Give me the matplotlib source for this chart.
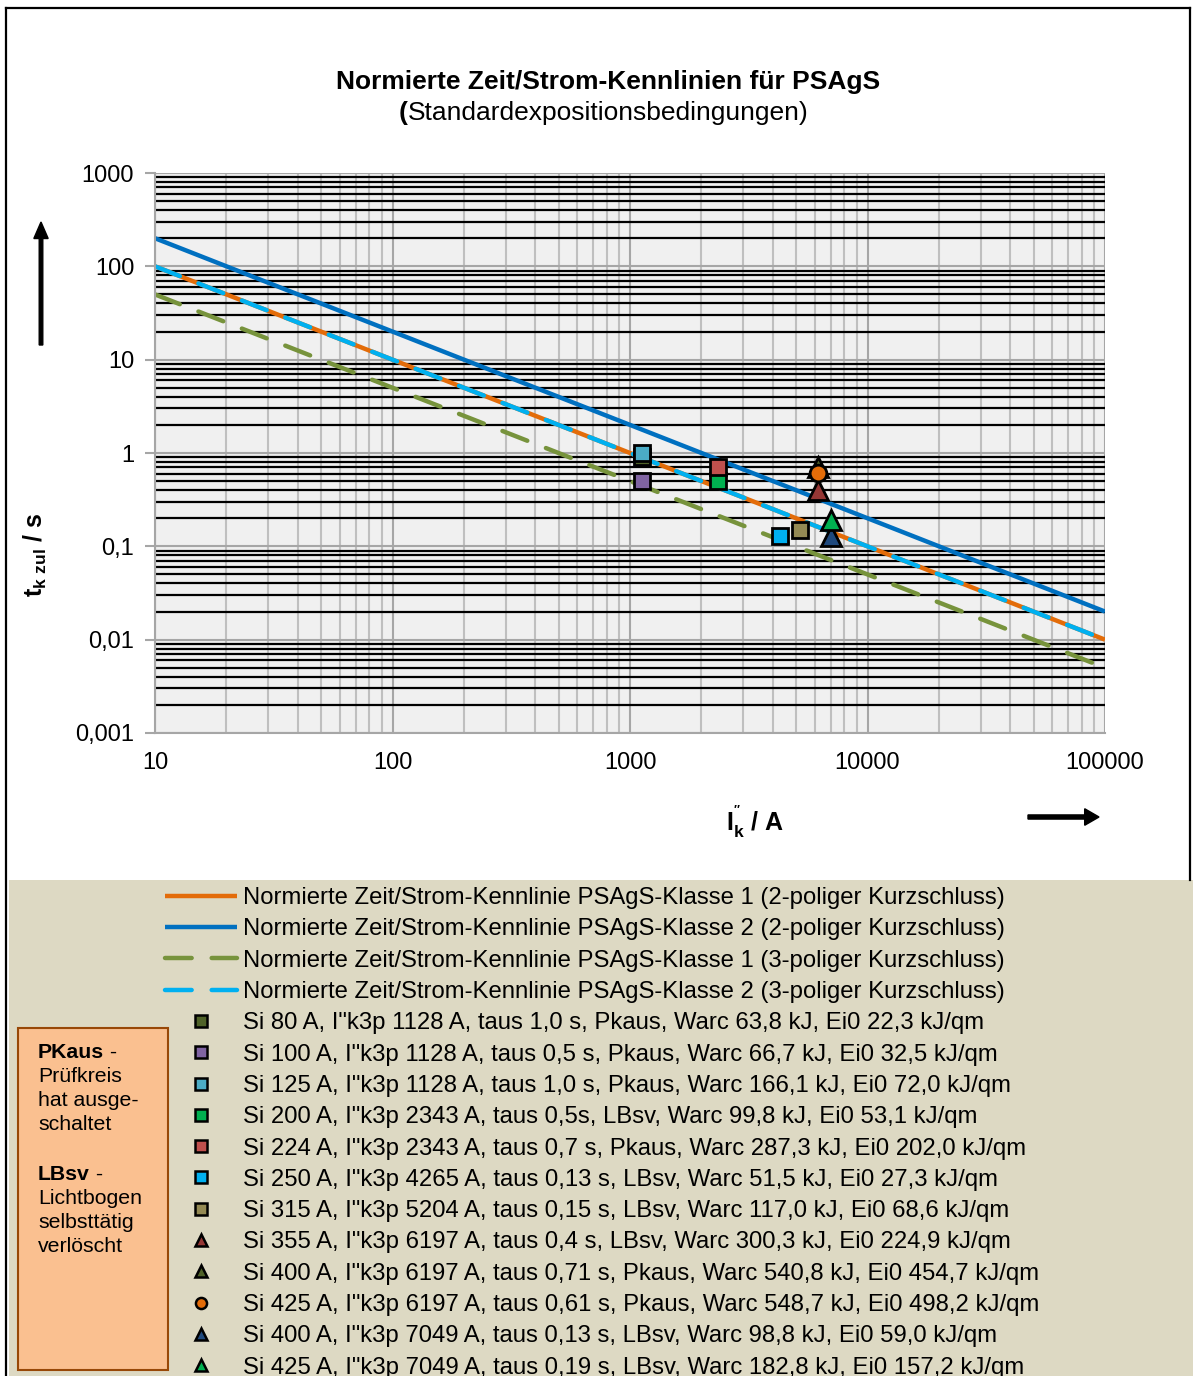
import matplotlib
matplotlib.use("Agg")
import matplotlib.pyplot as plt
from matplotlib.lines import Line2D
from matplotlib.patches import Rectangle, FancyArrow
from matplotlib.ticker import FixedLocator, FuncFormatter, LogLocator, NullFormatter

plt.rcParams['font.family'] = ['Liberation Sans', 'DejaVu Sans']
plt.rcParams['mathtext.fontset'] = 'custom'
plt.rcParams['mathtext.rm'] = 'Liberation Sans'
plt.rcParams['mathtext.bf'] = 'Liberation Sans:bold'

# Kennlinien (Endpunkte)
ik_line = [10, 100000]
t_kl1_2p = [100, 0.01]
t_kl2_2p = [200, 0.02]
t_kl1_3p = [50, 0.005]
t_kl2_3p = [100, 0.01]

line_labels = [
    "Normierte Zeit/Strom-Kennlinie PSAgS-Klasse 1 (2-poliger Kurzschluss)",
    "Normierte Zeit/Strom-Kennlinie PSAgS-Klasse 2 (2-poliger Kurzschluss)",
    "Normierte Zeit/Strom-Kennlinie PSAgS-Klasse 1 (3-poliger Kurzschluss)",
    "Normierte Zeit/Strom-Kennlinie PSAgS-Klasse 2 (3-poliger Kurzschluss)",
]

# Messpunkte
pt_ik = [1128, 1128, 1128, 2343, 2343, 4265, 5204, 6197, 6197, 6197, 7049, 7049]
pt_t = [0.9, 0.5, 1.0, 0.5, 0.7, 0.13, 0.15, 0.4, 0.71, 0.61, 0.13, 0.19]
pt_marker = ['s', 's', 's', 's', 's', 's', 's', '^', '^', 'o', '^', '^']
pt_color = ['#4F6228', '#8064A2', '#4BACC6', '#00B050', '#C0504D', '#00B0F0',
            '#948A54', '#953735', '#4F6228', '#E36C09', '#1F497D', '#00B050']
pt_labels = [
    "Si 80 A, I\"k3p 1128 A, taus 1,0 s, Pkaus, Warc 63,8 kJ, Ei0 22,3 kJ/qm",
    "Si 100 A, I\"k3p 1128 A, taus 0,5 s, Pkaus, Warc 66,7 kJ, Ei0 32,5 kJ/qm",
    "Si 125 A, I\"k3p 1128 A, taus 1,0 s, Pkaus, Warc 166,1 kJ, Ei0 72,0 kJ/qm",
    "Si 200 A, I\"k3p 2343 A, taus 0,5s, LBsv, Warc 99,8 kJ, Ei0 53,1 kJ/qm",
    "Si 224 A, I\"k3p 2343 A, taus 0,7 s, Pkaus, Warc 287,3 kJ, Ei0 202,0 kJ/qm",
    "Si 250 A, I\"k3p 4265 A, taus 0,13 s, LBsv, Warc 51,5 kJ, Ei0 27,3 kJ/qm",
    "Si 315 A, I\"k3p 5204 A, taus 0,15 s, LBsv, Warc 117,0 kJ, Ei0 68,6 kJ/qm",
    "Si 355 A, I\"k3p 6197 A, taus 0,4 s, LBsv, Warc 300,3 kJ, Ei0 224,9 kJ/qm",
    "Si 400 A, I\"k3p 6197 A, taus 0,71 s, Pkaus, Warc 540,8 kJ, Ei0 454,7 kJ/qm",
    "Si 425 A, I\"k3p 6197 A, taus 0,61 s, Pkaus, Warc 548,7 kJ, Ei0 498,2 kJ/qm",
    "Si 400 A, I\"k3p 7049 A, taus 0,13 s, LBsv, Warc 98,8 kJ, Ei0 59,0 kJ/qm",
    "Si 425 A, I\"k3p 7049 A, taus 0,19 s, LBsv, Warc 182,8 kJ, Ei0 157,2 kJ/qm",
]

W, H = 1193, 1376
fig = plt.figure(figsize=(W / 100, H / 100), dpi=100)

def fx(px):
    return px / W

def fy(py):
    return 1 - py / H

# Hintergrund Legendenbereich + Rahmen
fig.patches.append(Rectangle((fx(9), 0), 1, fy(880), transform=fig.transFigure,
                             facecolor='#DDD9C3', edgecolor='none', zorder=0))
fig.add_artist(Line2D([fx(6), fx(6)], [0, fy(8)], color='black', lw=1.6))
fig.add_artist(Line2D([fx(6), fx(1190)], [fy(8), fy(8)], color='black', lw=1.6))
fig.add_artist(Line2D([fx(1190), fx(1190)], [fy(8), fy(880)], color='black', lw=1.6))

ax = fig.add_axes([fx(155), fy(733), fx(1105) - fx(155), fy(173) - fy(733)])
ax.set_facecolor('#F0F0F0')
ax.set_xscale('log')
ax.set_yscale('log')
ax.set_xlim(10, 100000)
ax.set_ylim(0.001, 1000)

ax.xaxis.set_major_locator(FixedLocator([10, 100, 1000, 10000, 100000]))
ax.xaxis.set_minor_locator(LogLocator(base=10, subs=range(2, 10), numticks=20))
ax.yaxis.set_major_locator(FixedLocator([0.001, 0.01, 0.1, 1, 10, 100, 1000]))
ax.yaxis.set_minor_locator(LogLocator(base=10, subs=range(2, 10), numticks=20))
ax.xaxis.set_minor_formatter(NullFormatter())
ax.yaxis.set_minor_formatter(NullFormatter())
ax.xaxis.set_major_formatter(FuncFormatter(lambda v, p: f"{v:g}" if v >= 1 else ""))
ax.yaxis.set_major_formatter(FuncFormatter(
    lambda v, p: (f"{v:.0f}" if v >= 1 else f"{v:.3f}".rstrip('0').replace('.', ','))))

ax.grid(which='major', axis='both', color='#A6A6A6', lw=1.5)
ax.grid(which='minor', axis='x', color='#BFBFBF', lw=1.5)
ax.grid(which='minor', axis='y', color='black', lw=1.6)
ax.set_axisbelow(True)

for s in ['top', 'right']:
    ax.spines[s].set_visible(False)
for s in ['left', 'bottom']:
    ax.spines[s].set_color('#A6A6A6')
    ax.spines[s].set_linewidth(1.5)
ax.tick_params(which='major', axis='y', length=7, width=1.5, color='#A6A6A6',
               labelsize=17, pad=8)
ax.tick_params(which='major', axis='x', length=0, labelsize=17, pad=14)
ax.tick_params(which='minor', length=0)

h1, = ax.plot(ik_line, t_kl1_2p, color='#E36C09', lw=3.2, solid_capstyle='butt')
h2, = ax.plot(ik_line, t_kl2_2p, color='#0070C0', lw=3.2, solid_capstyle='butt')
h3, = ax.plot(ik_line, t_kl1_3p, color='#77933C', lw=3.2, dashes=(6, 4.5),
              dash_capstyle='round')
h4, = ax.plot(ik_line, t_kl2_3p, color='#00B0F0', lw=3.2, dashes=(6, 4.5),
              dash_capstyle='round')

pt_handles = []
for x, y, m, c in zip(pt_ik, pt_t, pt_marker, pt_color):
    ms = 15 if m == '^' else 12
    ax.plot([x], [y], marker=m, ms=ms, mfc=c, mec='black', mew=2, ls='none',
            clip_on=False, zorder=5)
    pt_handles.append(Line2D([], [], marker=m, ms=8 if m != '^' else 9, mfc=c,
                             mec='black', mew=1.8, ls='none'))

# Titel
fig.text(fx(608), fy(82), "Normierte Zeit/Strom-Kennlinien für PSAgS",
         ha='center', va='center', fontsize=19, fontweight='bold')
fig.text(fx(407), fy(113), "(", ha='right', va='center', fontsize=19, fontweight='bold')
fig.text(fx(408), fy(113), "Standardexpositionsbedingungen)", ha='left', va='center',
         fontsize=19)

# Achsenbeschriftungen
fig.text(fx(35), fy(555), r"$\mathbf{t_{k\ zul}}$ / s", rotation=90, ha='center',
         va='center', fontsize=18, fontweight='bold')
fig.text(fx(755), fy(822), r"$\mathbf{I^{''}_{k}}$ / A", ha='center', va='center',
         fontsize=18, fontweight='bold')
fig.add_artist(FancyArrow(fx(41), fy(345), 0, fy(222) - fy(345), width=0.003,
                          head_width=0.012, head_length=0.012, length_includes_head=True,
                          transform=fig.transFigure, color='black'))
fig.add_artist(FancyArrow(fx(1028), fy(817), fx(1099) - fx(1028), 0, width=0.003,
                          head_width=0.012, head_length=0.012,
                          length_includes_head=True, transform=fig.transFigure,
                          color='black'))

# Legende
fig.legend([h1, h2, h3, h4] + pt_handles, line_labels + pt_labels,
           loc='upper left', bbox_to_anchor=(fx(165), fy(887)), frameon=False,
           fontsize=17.2, handlelength=3.0, handletextpad=0.25, labelspacing=0.39,
           borderpad=0, borderaxespad=0)

# Info-Box
fig.patches.append(Rectangle((fx(18), fy(1370)), fx(168) - fx(18), fy(1028) - fy(1370),
                             transform=fig.transFigure, facecolor='#FAC090',
                             edgecolor='#984807', lw=1.5, zorder=1))
box_lines = [("PKaus", " -", 1052), ("", "Prüfkreis", 1076), ("", "hat ausge-", 1100),
             ("", "schaltet", 1124), ("LBsv", " -", 1174), ("", "Lichtbogen", 1198),
             ("", "selbsttätig", 1222), ("", "verlöscht", 1247)]
for b, r, py in box_lines:
    if b:
        t = fig.text(fx(38), fy(py), b, ha='left', va='center', fontsize=15.3,
                     fontweight='bold', zorder=2)
        fig.canvas.draw()
        bb = t.get_window_extent()
        fig.text(bb.x1 / W, fy(py), r, ha='left', va='center', fontsize=15.3, zorder=2)
    else:
        fig.text(fx(38), fy(py), r, ha='left', va='center', fontsize=15.3, zorder=2)

fig.savefig("out.png", dpi=100)
